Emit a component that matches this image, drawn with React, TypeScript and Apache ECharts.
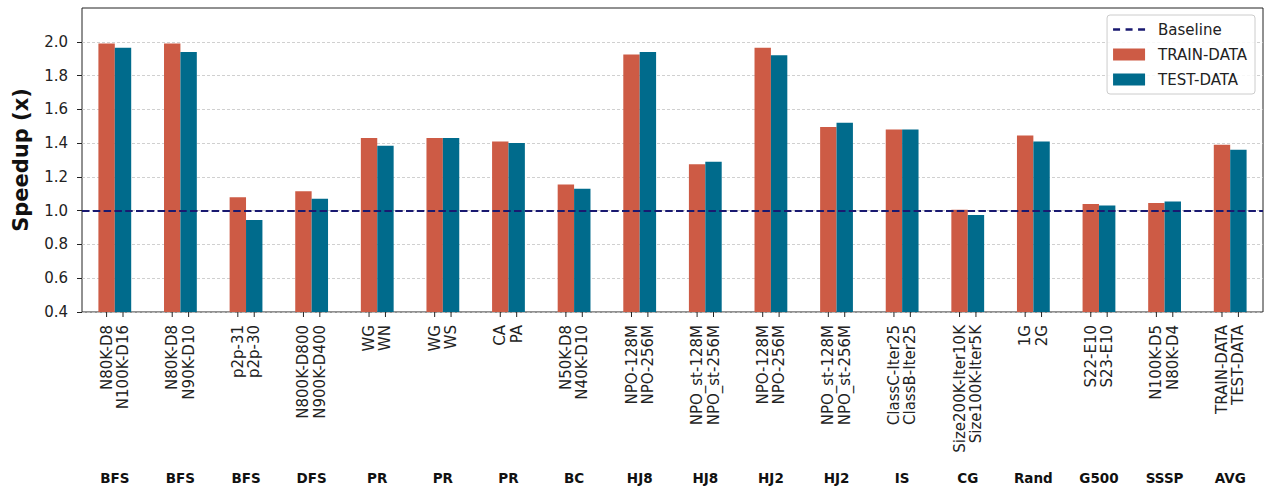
import React, { useEffect, useRef } from "react";
import * as echarts from "echarts";

const labelPairs: string[][] = [
  ["N80K-D8", "N100K-D16"],
  ["N80K-D8", "N90K-D10"],
  ["p2p-31", "p2p-30"],
  ["N800K-D800", "N900K-D400"],
  ["WG", "WN"],
  ["WG", "WS"],
  ["CA", "PA"],
  ["N50K-D8", "N40K-D10"],
  ["NPO-128M", "NPO-256M"],
  ["NPO_st-128M", "NPO_st-256M"],
  ["NPO-128M", "NPO-256M"],
  ["NPO_st-128M", "NPO_st-256M"],
  ["ClassC-Iter25", "ClassB-Iter25"],
  ["Size200K-Iter10K", "Size100K-Iter5K"],
  ["1G", "2G"],
  ["S22-E10", "S23-E10"],
  ["N100K-D5", "N80K-D4"],
  ["TRAIN-DATA", "TEST-DATA"],
];

const groups: string[] = [
  "BFS", "BFS", "BFS", "DFS", "PR", "PR", "PR", "BC", "HJ8",
  "HJ8", "HJ2", "HJ2", "IS", "CG", "Rand", "G500", "SSSP", "AVG",
];

const trainValues: number[] = [
  1.99, 1.99, 1.08, 1.115, 1.43, 1.43, 1.41, 1.155, 1.925,
  1.275, 1.965, 1.495, 1.48, 1.005, 1.445, 1.04, 1.045, 1.39,
];

const testValues: number[] = [
  1.965, 1.94, 0.945, 1.07, 1.385, 1.43, 1.4, 1.13, 1.94,
  1.29, 1.92, 1.52, 1.48, 0.975, 1.41, 1.03, 1.055, 1.36,
];

const baselineValue = 1.0;
const yMin = 0.4;
const yMax = 2.2;
const yInterval = 0.2;
const yTickValues: number[] = [0.4, 0.6, 0.8, 1.0, 1.2, 1.4, 1.6, 1.8, 2.0];

const FONT = "DejaVu Sans";
const RED = "#cd5b45";
const TEAL = "#006b8c";
const NAVY = "#191970";
const BAR_W = 16.4;

const DASH_ICON =
  "path://M0,0M0,4.8h7v2.4h-7zM12.5,4.8h7v2.4h-7zM25,4.8h7v2.4h-7zM32,12";

export default function App() {
  const ref = useRef<HTMLDivElement>(null);

  useEffect(() => {
    if (!ref.current) return;
    const chart = echarts.init(ref.current, undefined, { renderer: "svg" });
    const categories = labelPairs.map((p) => p.join("\n"));

    const option: any = {
      animation: false,
      backgroundColor: "#ffffff",
      textStyle: { fontFamily: FONT },
      grid: {
        left: 82,
        right: 10,
        top: 8,
        bottom: 182,
        show: true,
        borderColor: "#222",
        borderWidth: 1,
        backgroundColor: "transparent",
        containLabel: false,
        outerBoundsMode: "none",
      },
      legend: {
        orient: "vertical",
        right: 18,
        top: 15,
        padding: [7, 8, 7, 6],
        itemWidth: 32,
        itemHeight: 12,
        itemGap: 10,
        borderColor: "#cccccc",
        borderWidth: 1,
        borderRadius: 3,
        backgroundColor: "rgba(255,255,255,0.85)",
        textStyle: {
          fontFamily: FONT,
          fontSize: 15,
          color: "#222",
          padding: [0, 0, 0, 8],
        },
        data: [
          { name: "Baseline", icon: DASH_ICON, itemStyle: { color: NAVY, opacity: 1 } },
          { name: "TRAIN-DATA", icon: "rect" },
          { name: "TEST-DATA", icon: "rect" },
        ],
      },
      xAxis: [
        {
          type: "category",
          position: "bottom",
          data: categories,
          axisLine: { show: false },
          axisTick: { show: false },
          splitLine: { show: false },
          axisLabel: {
            interval: 0,
            rotate: 90,
            margin: 13,
            fontFamily: FONT,
            fontSize: 15,
            lineHeight: 16.4,
            color: "#222",
          },
        },
        {
          type: "category",
          position: "bottom",
          data: groups,
          axisLine: { show: false },
          axisTick: { show: false },
          splitLine: { show: false },
          axisLabel: {
            interval: 0,
            margin: 159,
            fontFamily: FONT,
            fontSize: 13.5,
            fontWeight: "bold",
            color: "#111",
          },
        },
      ],
      yAxis: {
        type: "value",
        min: yMin,
        max: yMax,
        interval: yInterval,
        name: "Speedup (x)",
        nameLocation: "middle",
        nameRotate: 90,
        nameGap: 51,
        nameTextStyle: {
          fontFamily: FONT,
          fontSize: 21,
          fontWeight: "bold",
          color: "#111",
        },
        axisLine: { show: false },
        axisTick: {
          show: true,
          length: 5,
          lineStyle: { color: "#222", width: 1 },
          customValues: yTickValues,
        },
        axisLabel: {
          margin: 14,
          fontFamily: FONT,
          fontSize: 15,
          color: "#222",
          customValues: yTickValues,
          formatter: (v: number) => (v > 2.1 ? "" : v.toFixed(1)),
        },
        splitLine: {
          show: true,
          lineStyle: { color: "#c4c4c4", width: 0.8, type: [3, 2] },
        },
      },
      series: [
        {
          name: "Baseline",
          type: "scatter",
          data: [],
          symbol: DASH_ICON,
          itemStyle: { color: NAVY, opacity: 1 },
          markLine: {
            silent: true,
            symbol: ["none", "none"],
            label: { show: false },
            lineStyle: { color: NAVY, width: 2, type: [7.5, 3.3], opacity: 1 },
            data: [{ yAxis: baselineValue }],
            z: 5,
          },
          z: 5,
        },
        {
          name: "TRAIN-DATA",
          type: "bar",
          data: trainValues,
          barWidth: BAR_W,
          barGap: "0%",
          itemStyle: { color: RED },
          z: 2,
        },
        {
          name: "TEST-DATA",
          type: "bar",
          data: testValues,
          barWidth: BAR_W,
          barGap: "0%",
          itemStyle: { color: TEAL },
          z: 2,
        },
        {
          type: "custom",
          silent: true,
          clip: false,
          z: 10,
          data: categories.map((_, i) => [i, yMin]),
          renderItem: (params: any, api: any) => {
            const p = api.coord([api.value(0), yMin]);
            const half = BAR_W / 2;
            return {
              type: "group",
              children: [-half, half].map((dx) => ({
                type: "line",
                shape: { x1: p[0] + dx, y1: p[1], x2: p[0] + dx, y2: p[1] + 5 },
                style: { stroke: "#222", lineWidth: 1 },
              })),
            };
          },
        },
      ],
    };

    chart.setOption(option);
    return () => chart.dispose();
  }, []);

  return (
    <div
      ref={ref}
      style={{ position: "fixed", left: 0, top: 0, width: 1273, height: 494 }}
    />
  );
}
